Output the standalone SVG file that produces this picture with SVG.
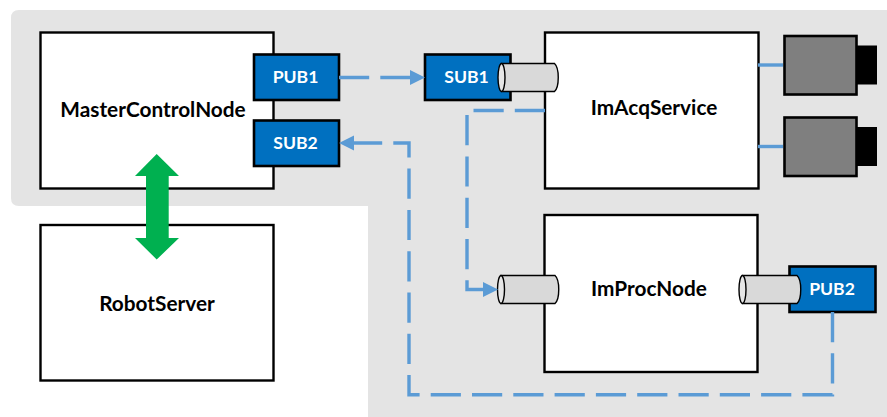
<svg xmlns="http://www.w3.org/2000/svg" width="887" height="417" viewBox="0 0 887 417">
<style>
.box{fill:#fff;stroke:#000;stroke-width:2.4}
.blue{fill:#0070C0;stroke:#000;stroke-width:2.6}
.cyl{fill:#D9D9D9;stroke:#000;stroke-width:1.4}
.cap{fill:#E6E6E6;stroke:#000;stroke-width:1.4}
.cam{fill:#7F7F7F;stroke:#000;stroke-width:2.6}
.lens{fill:#000}
.dash{fill:none;stroke:#5B9BD5;stroke-width:3.4;stroke-dasharray:30.2 11.1;marker-end:url(#ah)}
.line{fill:none;stroke:#5B9BD5;stroke-width:3.4}
text{font-family:"Lato","Open Sans","Liberation Sans",sans-serif;font-weight:700;text-anchor:middle}
.big{font-size:20.8px;fill:#000}
.small{font-size:17.6px;fill:#fff}
</style>
<defs>
<marker id="ah" markerUnits="userSpaceOnUse" markerWidth="16" markerHeight="16" refX="0" refY="8" orient="auto" viewBox="0 0 16 16"><path d="M0 0.500L15 8L0 15.500Z" fill="#5B9BD5"/></marker>
</defs>
<path id="background" d="M19 10H887V417H368V206H19Q11 206 11 198V18Q11 10 19 10Z" fill="#E4E4E4"/>
<g id="MasterControlNode"><rect class="box" x="40.500" y="32.500" width="233" height="156"/><text class="big" x="153" y="117">MasterControlNode</text></g>
<g id="RobotServer"><rect class="box" x="40.500" y="225" width="233" height="155.500"/><text class="big" x="157" y="311">RobotServer</text></g>
<g id="ImAcqService"><rect class="box" x="545" y="32.500" width="213.500" height="156"/><text class="big" x="654" y="115">ImAcqService</text></g>
<g id="ImProcNode"><rect class="box" x="544.500" y="215" width="213" height="157"/><text class="big" x="649" y="296">ImProcNode</text></g>
<g id="PUB1"><rect class="blue" x="254" y="54.500" width="85" height="45.500"/><text class="small" x="295.500" y="83">PUB1</text></g>
<g id="SUB2"><rect class="blue" x="254" y="120.500" width="85" height="45.500"/><text class="small" x="295.500" y="149">SUB2</text></g>
<g id="SUB1"><rect class="blue" x="425" y="54.500" width="85.500" height="45.500"/><text class="small" x="466.500" y="83">SUB1</text></g>
<g id="PUB2"><rect class="blue" x="789.500" y="266.500" width="86" height="45.500"/><text class="small" x="832" y="295">PUB2</text></g>
<g id="cylinder-sub1"><path class="cyl" d="M501.500 63.500H554.500C559.500 68 559.500 87 554.500 91.500H501.500Z"/><ellipse class="cap" cx="501.500" cy="77.500" rx="3.500" ry="14"/></g>
<g id="cylinder-improc-in"><path class="cyl" d="M501 275.500H555C560 280 560 299 555 303.500H501Z"/><ellipse class="cap" cx="501" cy="289.500" rx="3.500" ry="14"/></g>
<g id="cylinder-pub2"><path class="cyl" d="M742.500 275.500H797C802 280 802 299 797 303.500H742.500Z"/><ellipse class="cap" cx="742.500" cy="289.500" rx="3.500" ry="14"/></g>
<g id="camera-1"><rect class="lens" x="856" y="45.500" width="21" height="39"/><rect class="cam" x="784.500" y="36" width="72" height="58.500"/></g>
<g id="camera-2"><rect class="lens" x="856" y="127" width="21" height="39"/><rect class="cam" x="784.500" y="117.500" width="72" height="58.500"/></g>
<g id="connectors">
<path class="line" d="M758 65H783"/>
<path class="line" d="M758 146.500H783"/>
<path class="dash" d="M339 77.500H410"/>
<path class="dash" d="M545 110.500H467V289.500H483"/>
<path class="dash" d="M832.500 312V394.700H409V143H354"/>
<path fill="#00B050" d="M156.700 154L179 176H168.700V238H179L156.700 259.500L135 238H146V176H135Z"/>
</g>
</svg>
